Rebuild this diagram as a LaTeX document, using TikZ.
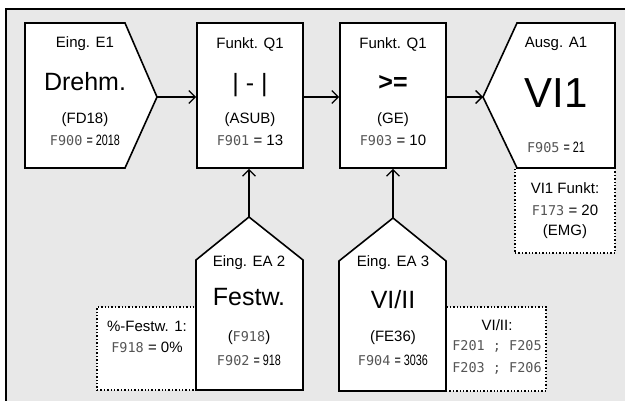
\documentclass[tikz,border=0pt]{standalone}
\usepackage{fontspec}
\setmainfont{Liberation Sans}
\newfontfamily\segfont{DejaVu Sans Mono}
\usetikzlibrary{arrows.meta}
\definecolor{bg}{HTML}{E8E8E8}
\definecolor{segc}{HTML}{555555}
\newcommand{\seg}[1]{{\segfont\fontsize{13.5}{15}\selectfont\color{segc}#1}}
\newcommand{\narrowtxt}[1]{\scalebox{0.72}[1]{#1}}
\begin{document}
\begin{tikzpicture}[x=1pt,y=-1pt,
 blk/.style={draw=black, line width=1.6pt, fill=white, line join=miter},
 note/.style={draw=black, line width=1.4pt, dotted, fill=white, inner sep=0pt},
 conn/.style={line width=1.3pt, -{Straight Barb[length=6.5pt,width=13pt,line width=1.3pt]}},
 lbl/.style={font=\fontsize{15}{17}\selectfont, inner sep=0pt},
 big/.style={font=\fontsize{25}{28}\selectfont, inner sep=0pt},
 huge/.style={font=\fontsize{42}{46}\selectfont, inner sep=0pt},
]
\useasboundingbox (0,0) rectangle (625,401);
\fill[white] (0,0) rectangle (625,401);
\draw[line width=2pt, fill=bg] (6,9) rectangle (640,420);

% dotted note boxes (drawn first)
\node[note, minimum width=99pt, minimum height=83pt] (d1) at (146.5,348.5) {};
\node[note, minimum width=100pt, minimum height=84pt] (d2) at (496,349) {};
\node[note, minimum width=100pt, minimum height=85pt] (d3) at (565,210.5) {};

% blocks
\draw[blk] (25,23) -- (125,23) -- (157,97) -- (125,168) -- (25,168) -- cycle;
\coordinate (e1tip) at (157,97);
\node[blk, minimum width=106pt, minimum height=145pt, inner sep=0pt] (q1) at (250,95.5) {};
\node[blk, minimum width=106pt, minimum height=145pt, inner sep=0pt] (q2) at (393,95.5) {};
\draw[blk] (483,97) -- (517,23) -- (615,23) -- (615,168) -- (517,168) -- cycle;
\coordinate (a1tip) at (483,97);
\draw[blk] (196,390) -- (196,260) -- (249,217) -- (303,260) -- (303,390) -- cycle;
\coordinate (ea2tip) at (249,217);
\draw[blk] (339,391) -- (339,261) -- (393,218) -- (446,261) -- (446,391) -- cycle;
\coordinate (ea3tip) at (393,218);

% connectors
\draw[conn] (e1tip) -- (e1tip -| q1.west);
\draw[conn] (q1.east |- e1tip) -- (q2.west |- e1tip);
\draw[conn] (q2.east |- a1tip) -- (a1tip);
\draw[conn] (ea2tip) -- (ea2tip |- q1.south);
\draw[conn] (ea3tip) -- (ea3tip |- q2.south);

% texts E1
\node[lbl] (e1a) at (85,44) {Eing. E1};
\node[big] (e1b) at (85,82) {Drehm.};
\node[lbl] (e1c) at (85,120) {(FD18)};
\node[lbl] (e1d) at (85,140) {\seg{F900} \narrowtxt{= 2018}};
% Q1
\node[lbl] (q1a) at (250,44) {Funkt. Q1};
\node[big] (q1b) at (250,85) {| - |};
\node[lbl] (q1c) at (250,120) {(ASUB)};
\node[lbl] (q1d) at (250,140) {\seg{F901} = 13};
% Q2
\node[lbl] (q2a) at (393,44) {Funkt. Q1};
\node[big] (q2b) at (393,83) {\bfseries >=};
\node[lbl] (q2c) at (393,120) {(GE)};
\node[lbl] (q2d) at (393,140) {\seg{F903} = 10};
% A1
\node[lbl] (a1a) at (556,44) {Ausg. A1};
\node[huge] (a1b) at (556,93) {VI1};
\node[lbl] (a1c) at (556,147) {\seg{F905} \narrowtxt{= 21}};
% D3
\node[lbl] (d3a) at (565,188) {VI1 Funkt:};
\node[lbl] (d3b) at (565,210) {\seg{F173} = 20};
\node[lbl] (d3c) at (565,232) {(EMG)};
% EA2
\node[lbl] (ea2a) at (249,263) {Eing. EA 2};
\node[big] (ea2b) at (249,297) {Festw.};
\node[lbl] (ea2c) at (249,338) {(\seg{F918})};
\node[lbl] (ea2d) at (249,360) {\seg{F902} \narrowtxt{= 918}};
% EA3
\node[lbl] (ea3a) at (393,263) {Eing. EA 3};
\node[big] (ea3b) at (393,300) {VI/II};
\node[lbl] (ea3c) at (393,338) {(FE36)};
\node[lbl] (ea3d) at (393,360) {\seg{F904} \narrowtxt{= 3036}};
% D1
\node[lbl] (d1a) at (147,326) {\%-Festw. 1:};
\node[lbl] (d1b) at (147,347) {\seg{F918} = 0\%};
% D2
\node[lbl] (d2a) at (497,325) {VI/II:};
\node[lbl] (d2b) at (497,346) {\seg{F201 ; F205}};
\node[lbl] (d2c) at (497,368) {\seg{F203 ; F206}};
\end{tikzpicture}
\end{document}
